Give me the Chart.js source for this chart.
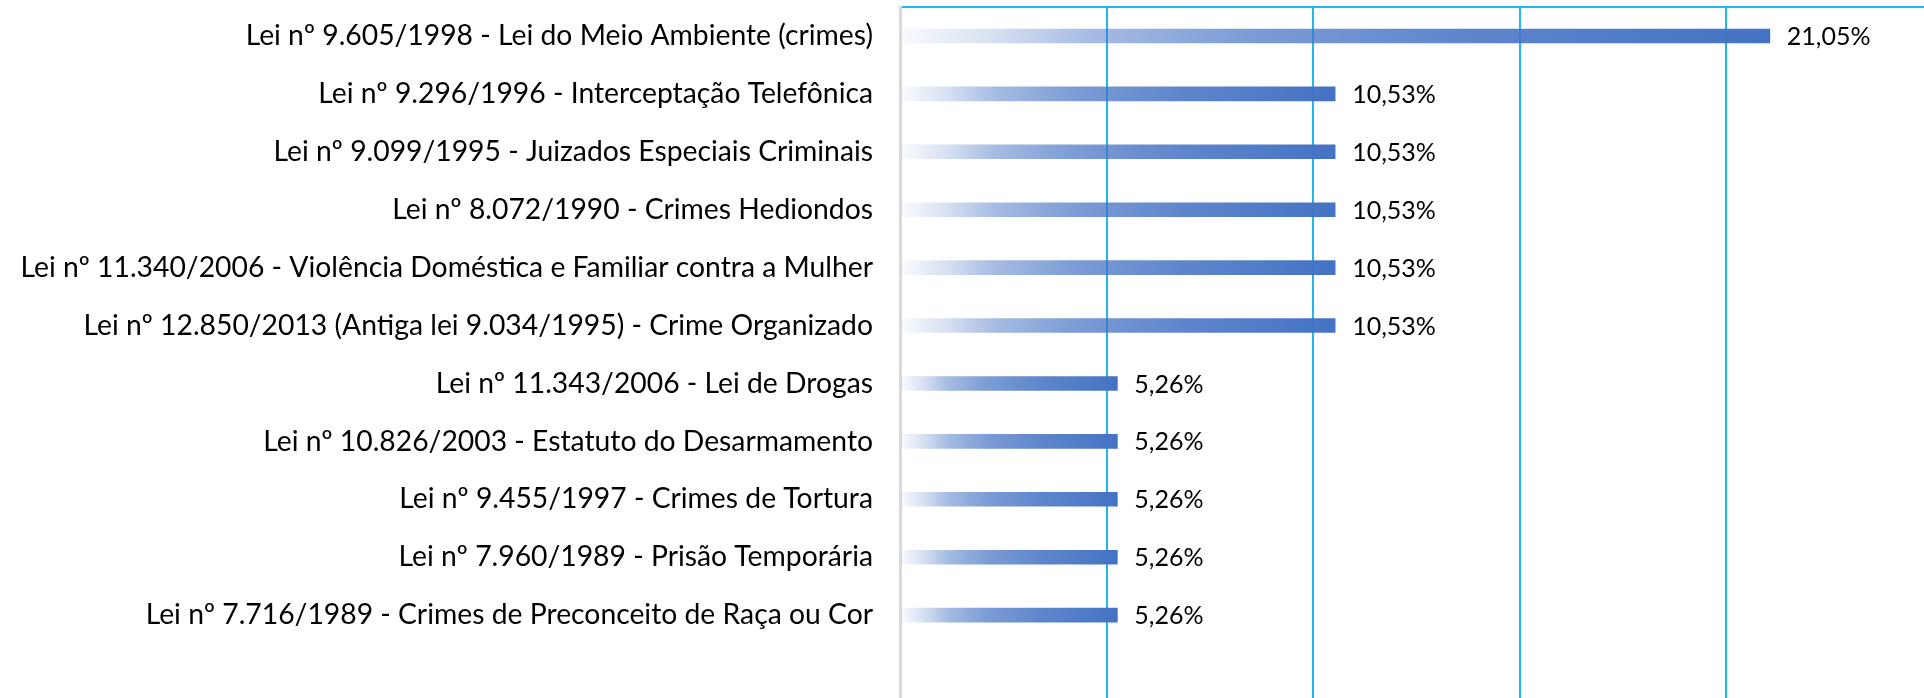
<!DOCTYPE html>
<html>
<head>
<meta charset="utf-8">
<script src="https://cdn.jsdelivr.net/npm/chart.js@4.4.1/dist/chart.umd.min.js"></script>
<style>
  html, body { margin: 0; padding: 0; background: #ffffff; overflow: hidden; }
  #wrap { position: relative; width: 1924px; height: 702px; }
</style>
</head>
<body>
<div id="wrap"><canvas id="c"></canvas></div>
<script>
// ---- data ----
const categories = [
  'Lei nº 9.605/1998 - Lei do Meio Ambiente (crimes)',
  'Lei nº 9.296/1996 - Interceptação Telefônica',
  'Lei nº 9.099/1995 - Juizados Especiais Criminais',
  'Lei nº 8.072/1990 - Crimes Hediondos',
  'Lei nº 11.340/2006 - Violência Doméstica e Familiar contra a Mulher',
  'Lei nº 12.850/2013 (Antiga lei 9.034/1995) - Crime Organizado',
  'Lei nº 11.343/2006 - Lei de Drogas',
  'Lei nº 10.826/2003 - Estatuto do Desarmamento',
  'Lei nº 9.455/1997 - Crimes de Tortura',
  'Lei nº 7.960/1989 - Prisão Temporária',
  'Lei nº 7.716/1989 - Crimes de Preconceito de Raça ou Cor'
];
const percentValues = [21.05, 10.53, 10.53, 10.53, 10.53, 10.53, 5.26, 5.26, 5.26, 5.26, 5.26];
const valueLabels = ['21,05%', '10,53%', '10,53%', '10,53%', '10,53%', '10,53%', '5,26%', '5,26%', '5,26%', '5,26%', '5,26%'];
const xTickStep = 5;
const xAxisMax = 24.78;

// empty trailing slot: the plot area continues below the last bar in the reference
const axisLabels = categories.concat(['']);
const axisValues = percentValues.concat([null]);

const FONT = 'Lato, "Open Sans", sans-serif';
const GRID_BLUE = '#22B5EE';

function barGradient(context) {
  const chart = context.chart;
  const xs = chart.scales && chart.scales.x;
  const v = context.raw;
  if (v == null) return 'rgba(0,0,0,0)';
  if (!chart.chartArea || !xs) return 'rgb(68,114,196)';
  const x0 = xs.getPixelForValue(0);
  const x1 = xs.getPixelForValue(v);
  const g = chart.ctx.createLinearGradient(x0, 0, x1, 0);
  g.addColorStop(0.00, 'rgba(68,114,196,0.03)');
  g.addColorStop(0.10, 'rgba(68,114,196,0.20)');
  g.addColorStop(0.22, 'rgba(68,114,196,0.48)');
  g.addColorStop(0.40, 'rgba(68,114,196,0.70)');
  g.addColorStop(0.65, 'rgba(68,114,196,0.86)');
  g.addColorStop(1.00, 'rgba(68,114,196,1)');
  return g;
}

const valueLabelPlugin = {
  id: 'valueLabelPlugin',
  afterDatasetsDraw(chart) {
    const ctx = chart.ctx;
    const meta = chart.getDatasetMeta(0);
    ctx.save();
    ctx.font = '25px ' + FONT;
    ctx.fillStyle = '#000000';
    ctx.textAlign = 'left';
    ctx.textBaseline = 'middle';
    meta.data.forEach((bar, i) => {
      if (axisValues[i] == null) return;
      ctx.fillText(valueLabels[i], bar.x + 17, bar.y + 1);
    });
    ctx.restore();
  }
};

new Chart(document.getElementById('c'), {
  type: 'bar',
  data: {
    labels: axisLabels,
    datasets: [{
      data: axisValues,
      backgroundColor: barGradient,
      borderWidth: 0,
      barThickness: 14
    }]
  },
  options: {
    indexAxis: 'y',
    responsive: true,
    maintainAspectRatio: false,
    animation: false,
    events: [],
    layout: { padding: { top: 7, left: 0, right: 0, bottom: 0 } },
    plugins: {
      legend: { display: false },
      tooltip: { enabled: false },
      title: { display: false }
    },
    scales: {
      x: {
        position: 'top',
        min: 0,
        max: xAxisMax,
        ticks: { display: false, stepSize: xTickStep },
        afterBuildTicks: (s) => { s.ticks = s.ticks.filter(t => Math.abs(t.value / xTickStep - Math.round(t.value / xTickStep)) < 1e-6); },
        afterFit: (s) => { s.height = 0; s.paddingLeft = 0; s.paddingRight = 0; },
        grid: {
          drawTicks: false,
          lineWidth: 2,
          color: (c) => (c.tick && c.tick.value === 0) ? 'rgba(0,0,0,0)' : GRID_BLUE
        },
        border: { display: true, color: GRID_BLUE, width: 2 }
      },
      y: {
        grid: { display: false, drawTicks: false },
        border: { display: true, color: '#D9D9D9', width: 3 },
        afterFit: (s) => { s.width = 900; s.paddingTop = 0; s.paddingBottom = 0; },
        ticks: {
          padding: 27,
          color: '#000000',
          font: { family: FONT, size: 28.3 },
          autoSkip: false
        }
      }
    }
  },
  plugins: [valueLabelPlugin]
});
</script>
</body>
</html>
